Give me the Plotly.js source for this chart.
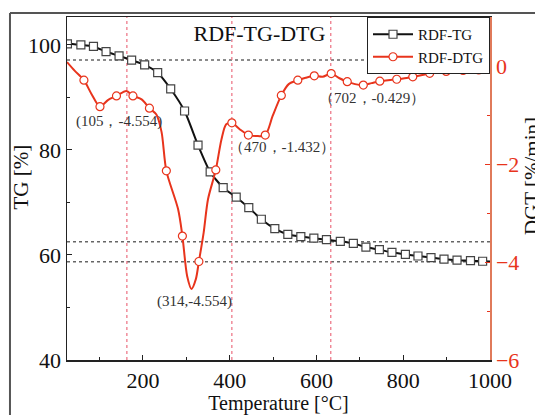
<!DOCTYPE html>
<html>
<head>
<meta charset="utf-8">
<script src="https://cdn.plot.ly/plotly-3.0.1.min.js"></script>
<style>html,body{margin:0;padding:0;background:#fff;}#chart{width:535px;height:415px;}</style>
</head>
<body>
<div id="chart"></div>
<script>
// ---- data ----
// TG curve (markers)
const tgTemp = [26,57,86,115,145,174,204,234,264,296,327,355,385,415,444,473,504,534,564,594,623,655,685,714,745,774,805,834,864,894,924,955,983];
const tgVal  = [100.2,100.0,99.7,98.7,97.9,97.1,96.2,94.7,91.6,87.4,80.9,75.8,72.8,71.0,69.0,66.8,65.0,63.9,63.5,63.2,62.9,62.6,62.2,61.5,61.0,60.5,60.1,59.8,59.5,59.2,59.0,58.9,58.8];
const tgEndTemp = [1000];
const tgEndVal = [58.75];

// DTG curve (traced line)
const dtgLineTemp = [25,43,64,82,101,120,139,162,177,197,215,231,243,254,281,291,302,312,322,329,340,350,368,381,392,405,423,443,462,482,499,519,536,557,575,595,614,634,653,671,689,708,727,746,765,785,803,822,841,861,880,899,918,938,956,974,1000];
const dtgLineVal  = [0.08,-0.10,-0.29,-0.58,-0.83,-0.69,-0.61,-0.51,-0.61,-0.68,-0.86,-0.99,-1.35,-2.14,-2.92,-3.47,-4.29,-4.55,-4.35,-3.99,-3.40,-2.72,-2.12,-1.50,-1.19,-1.16,-1.29,-1.41,-1.43,-1.41,-1.02,-0.60,-0.37,-0.29,-0.24,-0.20,-0.22,-0.155,-0.25,-0.32,-0.37,-0.39,-0.35,-0.31,-0.29,-0.27,-0.25,-0.22,-0.19,-0.15,-0.13,-0.11,-0.10,-0.09,-0.10,-0.08,0.0];
// DTG markers
const dtgMarkTemp = [64,101,139,177,215,254,291,329,368,405,443,482,519,557,595,634,671,708,746,785,822,861,899,938,974];
const dtgMarkVal  = [-0.29,-0.83,-0.61,-0.61,-0.86,-2.14,-3.47,-3.99,-2.12,-1.16,-1.41,-1.41,-0.60,-0.29,-0.20,-0.155,-0.32,-0.39,-0.31,-0.27,-0.22,-0.15,-0.11,-0.09,-0.08];

// reference guide lines
const guideTG = [97.1, 62.5, 58.7];
const guideTemp = [163, 405, 633];

// axis ticks
const xTicks = [200,400,600,800,1000];
const yTicks = [40,60,80,100];
const y2Ticks = [-6,-4,-2,0];

// annotation labels
const peakLabels = ['(105，-4.554)','（470，-1.432）','（702，-0.429）','(314,-4.554)'];

const serif = 'Liberation Serif, Times New Roman, serif';
const RED = '#e8341c';
const BLACK = '#111111';

const traces = [
  {x: tgTemp.concat(tgEndTemp), y: tgVal.concat(tgEndVal), mode:'lines', line:{color:BLACK, width:2, shape:'spline', smoothing:0.6}, showlegend:false, hoverinfo:'skip'},
  {x: tgTemp, y: tgVal, mode:'markers', marker:{symbol:'square', size:8, color:'#ffffff', line:{color:'#444', width:1.2}}, showlegend:false},
  {x: dtgLineTemp, y: dtgLineVal, yaxis:'y2', mode:'lines', line:{color:RED, width:2, shape:'spline', smoothing:0.8}, showlegend:false, hoverinfo:'skip'},
  {x: dtgMarkTemp, y: dtgMarkVal, yaxis:'y2', mode:'markers', marker:{symbol:'circle', size:8, color:'#ffffff', line:{color:RED, width:1.2}}, showlegend:false},
  {x:[null], y:[null], name:'RDF-TG', mode:'lines+markers', line:{color:BLACK, width:2}, marker:{symbol:'square', size:8, color:'#ffffff', line:{color:'#444', width:1.2}}},
  {x:[null], y:[null], name:'RDF-DTG', yaxis:'y2', mode:'lines+markers', line:{color:RED, width:2}, marker:{symbol:'circle', size:8, color:'#ffffff', line:{color:RED, width:1.2}}}
];

const shapes = [];
guideTG.forEach(v => shapes.push({type:'line', xref:'paper', x0:0, x1:1, yref:'y', y0:v, y1:v, line:{color:'#666', width:1.5, dash:'dot'}, layer:'below'}));
guideTemp.forEach(v => shapes.push({type:'line', xref:'x', x0:v, x1:v, yref:'paper', y0:0, y1:1, line:{color:'#ec6f80', width:1.2, dash:'dot'}, layer:'below'}));
// outer frame of the figure
shapes.push({type:'line', xref:'paper', yref:'paper', x0:-0.1348, x1:-0.1348, y0:1.0117, y1:-0.17, line:{color:'#555', width:2}});
shapes.push({type:'line', xref:'paper', yref:'paper', x0:-0.1348, x1:1.11, y0:1.0117, y1:1.0117, line:{color:'#555', width:2}});

const annFont = {family: serif, size: 15, color:'#333'};
const annPos = [[0.124,0.694],[0.509,0.621],[0.721,0.763],[0.3026,0.170]];
const annotations = peakLabels.map((t,i) => ({text:t, xref:'paper', yref:'paper', x:annPos[i][0], y:annPos[i][1], xanchor:'center', yanchor:'middle', showarrow:false, font:annFont}));
annotations.push({text:'TG [%]', xref:'paper', yref:'paper', x:-0.111, y:0.532, textangle:-90, xanchor:'center', yanchor:'middle', showarrow:false, font:{family:serif, size:21, color:'#111'}});
annotations.push({text:'DGT [%/min]', xref:'paper', yref:'paper', x:1.099, y:0.536, textangle:-90, xanchor:'center', yanchor:'middle', showarrow:false, font:{family:serif, size:21, color:'#111'}});

const layout = {
  width:535, height:415,
  margin:{l:67, r:45, t:17, b:55},
  paper_bgcolor:'#ffffff', plot_bgcolor:'#ffffff',
  font:{family:serif, color:'#111'},
  title:{text:'RDF-TG-DTG', font:{family:serif, size:22, color:'#111'}, xref:'paper', yref:'paper', x:0.455, xanchor:'center', y:0.953, yanchor:'middle'},
  xaxis:{range:[25,1000], tickvals:xTicks, ticks:'inside', ticklen:5, tickcolor:'#222', showline:true, linecolor:'#222', linewidth:1.5, mirror:true, showgrid:false, zeroline:false,
         tickfont:{family:serif, size:22, color:'#111'},
         minor:{ticks:'inside', ticklen:3, dtick:100, tick0:0, tickcolor:'#222'},
         title:{text:'Temperature [°C]', font:{family:serif, size:20, color:'#111'}, standoff:4}},
  yaxis:{range:[40,105.3], tickvals:yTicks, ticks:'inside', ticklen:5, tickcolor:'#222', showline:true, linecolor:'#222', linewidth:1.5, showgrid:false, zeroline:false,
         tickfont:{family:serif, size:22, color:'#111'},
         minor:{ticks:'inside', ticklen:3, dtick:10, tick0:0, tickcolor:'#222'}},
  yaxis2:{overlaying:'y', side:'right', range:[-6,1.0], tickvals:y2Ticks, ticks:'inside', ticklen:5, tickcolor:RED, showline:true, linecolor:'#e07a5a', linewidth:1.5, showgrid:false, zeroline:false,
          tickfont:{family:serif, size:22, color:RED},
          minor:{ticks:'inside', ticklen:3, dtick:1, tick0:0, tickcolor:RED}},
  legend:{x:1, xanchor:'right', y:1, yanchor:'top', bgcolor:'#ffffff', bordercolor:'#222', borderwidth:1, font:{family:serif, size:15, color:'#111'}, itemwidth:40, tracegroupgap:0},
  shapes:shapes,
  annotations:annotations
};

Plotly.newPlot('chart', traces, layout, {displayModeBar:false, staticPlot:true});
</script>
</body>
</html>
